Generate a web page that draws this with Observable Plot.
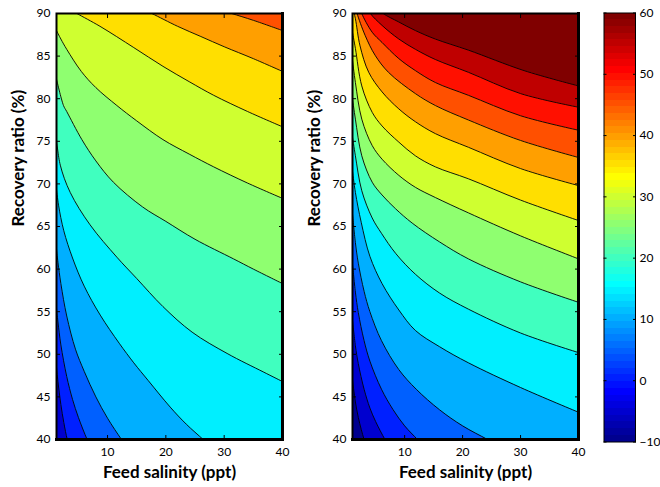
<!DOCTYPE html>
<html><head><meta charset="utf-8">
<script src="https://cdn.jsdelivr.net/npm/d3@7"></script>
<script src="https://cdn.jsdelivr.net/npm/@observablehq/plot@0.6"></script>
<style>
html,body{margin:0;padding:0;background:#fff;}
#wrap{position:relative;width:660px;height:487px;}
#wrap svg{position:absolute;top:0;overflow:visible;}
</style></head><body><div id="wrap"></div>
<script>
// ---- axes / scale data ----
const xTicks = [10, 20, 30, 40];
const yTicks = [40, 45, 50, 55, 60, 65, 70, 75, 80, 85, 90];
const cbTicks = [-10, 0, 10, 20, 30, 40, 50, 60];
const leftXDomain = [1.25, 40];
const rightXDomain = [1, 40];
const yDomain = [40, 90];
const cDomain = [-10, 60];
const xTitle = "Feed salinity (ppt)";
const yTitle = "Recovery ratio (%)";

// ---- left panel contour lines: [feed salinity, recovery ratio] ----
const leftLevels = [0, 5, 10, 15, 20, 25, 30, 35, 40, 45];
const leftBase = -5;
const leftL0  = [[1.25,48.5],[1.5,46.8],[2,44.1],[2.5,42.0],[3.1,40],[3.6,39]];
const leftL5  = [[1.25,55.4],[1.5,53.8],[2,51.1],[3,47.4],[4,44.7],[5,42.6],[6.5,40],[7.2,39]];
const leftL10 = [[1.25,62.4],[1.5,60.8],[2,58.3],[3,54.5],[4.5,50.6],[6,48.0],[8,45.0],[10,42.5],[12.4,40],[13.5,39]];
const leftL15 = [[1.25,69.4],[1.6,67.5],[2.5,64.5],[4,61.3],[6,58.0],[8.75,54.6],[12,51.3],[14.5,49.0],[17,46.9],[20.75,43.8],[23.5,41.8],[26.4,40],[28,39]];
const leftL20 = [[1.25,75.2],[1.9,72.2],[3.6,69.0],[7,65.2],[11.6,61.4],[15,58.9],[19.5,55.6],[24.5,52.6],[30.5,50.1],[36.8,47.9],[40,46.8]];
const leftL25 = [[1.25,82.3],[2.45,79.2],[3,78.5],[5.6,75.2],[8,72.7],[11,70.2],[16,67.3],[20,65.6],[25,63.5],[31.6,61.2],[35,60.0],[40,58.3]];
const leftL30 = [[1.25,88.0],[2,87.0],[3,85.8],[5.5,83.2],[8,81.3],[11.6,79.2],[15,77.4],[19.5,75.2],[24,73.5],[28.2,72.0],[34,70.1],[40,68.3]];
const leftL35 = [[3.5,90.5],[4.75,90],[8.7,88.5],[14.5,86.0],[19.5,83.8],[24,82.0],[28.2,80.4],[34,78.5],[40,76.7]];
const leftL40 = [[16,90.5],[17.6,90],[22,88.5],[26,87.3],[30,86.1],[35,84.7],[40,83.2]];
const leftL45 = [[29.5,90.4],[31.3,90],[35,89.2],[40,88.0]];
const leftLines = [leftL0, leftL5, leftL10, leftL15, leftL20, leftL25, leftL30, leftL35, leftL40, leftL45];

// ---- right panel contour lines ----
const rightLevels = [-5, 0, 5, 10, 15, 20, 25, 30, 35, 40, 45, 50, 55, 60];
const rightBase = -10;
const rightLm5 = [[1,47],[1.5,44.4],[2,42.6],[2.5,41.2],[3,40],[3.5,39]];
const rightL0  = [[1,54],[1.5,51],[2,48.9],[3,45.9],[4,43.7],[5,42.1],[6.6,40],[7.5,39]];
const rightL5  = [[1,60.6],[1.5,57.3],[2,54.9],[3,51.6],[4,49.2],[6,45.9],[8,43.5],[10,41.6],[12.2,40],[13.5,39]];
const rightL10 = [[1,66.5],[1.5,63.1],[2,60.7],[3,57.4],[4,55.0],[6,51.6],[9,48.2],[12,45.9],[16,43.5],[20,41.6],[24.3,40],[27,39]];
const rightL15 = [[1,71.5],[1.5,69.0],[2.5,65.5],[4,61.5],[6.1,58.3],[9,55.2],[11.85,52.8],[16,50.9],[21,49.0],[30,46.1],[40,43.2]];
const rightL20 = [[1,75.5],[1.5,73.3],[2.6,69.2],[4.4,66.0],[6,64.2],[8.5,61.8],[11.85,59.4],[16,57.2],[21,55.3],[30,52.5],[40,50.2]];
const rightL25 = [[1,80.0],[1.5,77.6],[2.6,73.3],[4.4,70.2],[6.1,68.7],[8.4,67.1],[11.3,65.4],[16,63.2],[21,61.2],[30,58.5],[40,56.1]];
const rightL30 = [[1,84.5],[1.5,81.9],[2.6,77.6],[4.4,74.5],[6.1,72.9],[9,71.0],[11.85,69.6],[15.3,68.4],[21,66.6],[30,63.9],[40,61.2]];
const rightL35 = [[1,87.8],[1.5,85.9],[2.6,81.5],[4.4,78.4],[6.1,76.8],[9,74.9],[11.85,73.3],[15.3,72.0],[21,70.6],[30,68.1],[40,65.7]];
const rightL40 = [[1.1,90.5],[1.5,89.4],[2.3,86.2],[3.8,83.1],[6.1,80.8],[9,78.8],[11.85,77.3],[15.3,75.9],[21,74.3],[30,71.8],[40,69.8]];
const rightL45 = [[1.65,90.5],[1.8,90],[3.2,87.4],[4.9,85.1],[7.2,83.1],[11.85,80.6],[15.3,79.2],[21,77.5],[30,75.1],[40,73.1]];
const rightL50 = [[2.4,90.5],[2.6,90],[4.4,87.8],[6.1,86.6],[9,84.7],[11.85,83.3],[15.3,81.9],[21,80.4],[30,78.0],[40,76.3]];
const rightL55 = [[3.8,90.5],[4.1,90],[6.1,88.6],[9,87.0],[11.85,85.8],[15.3,84.6],[21,83.1],[30,80.6],[40,79.0]];
const rightL60 = [[5.6,90.5],[6.3,90],[9,89.0],[11.85,88.0],[15.3,87.0],[21,85.7],[30.6,83.3],[40,81.5]];
const rightLines = [rightLm5, rightL0, rightL5, rightL10, rightL15, rightL20, rightL25, rightL30, rightL35, rightL40, rightL45, rightL50, rightL55, rightL60];

// ---- MATLAB jet(64) colormap ----
function jetColor(v) {
  const m = 64;
  let j = Math.floor((v - cDomain[0]) / (cDomain[1] - cDomain[0]) * m) + 1;
  j = Math.max(1, Math.min(m, j));
  const u = k => (k < 1 || k > 47) ? 0 : k <= 16 ? k / 16 : k <= 31 ? 1 : (48 - k) / 16;
  const c = t => Math.round(255 * t);
  return `rgb(${c(u(j - 24))},${c(u(j - 8))},${c(u(j + 8))})`;
}

const font = {fontFamily: "Lato, 'Open Sans', sans-serif", fontSize: "12px", color: "#000", background: "transparent", overflow: "visible"};

function panel(levels, lines, baseLevel, xDomain, m) {
  const marks = [Plot.frame({fill: jetColor(baseLevel), stroke: null})];
  lines.forEach((pts, i) => {
    const last = pts[pts.length - 1];
    const fillPts = last[0] < xDomain[1] ? [...pts, [xDomain[1] + 2, last[1]]] : pts;
    marks.push(Plot.areaY(fillPts, {x: d => d[0], y1: d => d[1], y2: yDomain[1] + 2,
      fill: jetColor(levels[i]), curve: "catmull-rom", clip: true}));
  });
  lines.forEach(pts => marks.push(Plot.line(pts, {x: d => d[0], y: d => d[1],
    stroke: "#000", strokeWidth: 0.9, curve: "catmull-rom", clip: true})));
  marks.push(
    Plot.axisY({ticks: yTicks, anchor: "left", tickSize: -4, tickPadding: 10, label: null}),
    Plot.axisY({ticks: yTicks, anchor: "right", tickSize: -4, tickFormat: () => "", label: null}),
    Plot.axisX({ticks: xTicks, anchor: "bottom", tickSize: -4, tickPadding: 12, label: null}),
    Plot.axisX({ticks: xTicks, anchor: "top", tickSize: -4, tickFormat: () => "", label: null}),
    Plot.frame({stroke: "#000", strokeWidth: 2}),
    Plot.frame({anchor: "bottom", stroke: "#000", strokeWidth: 3}),
    Plot.frame({anchor: "right", stroke: "#000", strokeWidth: 3}),
    Plot.text([xTitle], {frameAnchor: "bottom", dy: 38, fontWeight: "bold", fontSize: 17}),
    Plot.text([yTitle], {frameAnchor: "left", rotate: -90, dx: m.titleDx, fontWeight: "bold", fontSize: 17})
  );
  return Plot.plot({
    width: 300, height: 487,
    marginLeft: m.left, marginRight: m.right, marginTop: 13, marginBottom: 48,
    x: {domain: xDomain}, y: {domain: yDomain},
    style: font, marks
  });
}

const wrap = document.getElementById("wrap");
const left = panel(leftLevels, leftLines, leftBase, leftXDomain, {left: 56, right: 18, titleDx: -38});
left.style.left = "0px";
wrap.appendChild(left);
const right = panel(rightLevels, rightLines, rightBase, rightXDomain, {left: 52, right: 22, titleDx: -38});
right.style.left = "300px";
wrap.appendChild(right);

// ---- colorbar ----
const cbSteps = d3.range(64).map(i => {
  const a = cDomain[0] + i * (cDomain[1] - cDomain[0]) / 64;
  const b = cDomain[0] + (i + 1) * (cDomain[1] - cDomain[0]) / 64;
  return {y1: a, y2: b, color: jetColor((a + b) / 2)};
});
const cb = Plot.plot({
  width: 60, height: 487,
  marginLeft: 3.5, marginRight: 25, marginTop: 12.5, marginBottom: 45.5,
  y: {domain: cDomain},
  style: font,
  marks: [
    Plot.rect(cbSteps, {y1: "y1", y2: "y2", fill: "color", shapeRendering: "crispEdges"}),
    Plot.axisY({ticks: cbTicks, anchor: "right", tickSize: -3, tickPadding: 7, label: null}),
    Plot.axisY({ticks: cbTicks, anchor: "left", tickSize: -3, tickFormat: () => "", label: null}),
    Plot.frame({stroke: "#000", strokeWidth: 1})
  ]
});
cb.style.left = "600px";
wrap.appendChild(cb);
</script></body></html>
